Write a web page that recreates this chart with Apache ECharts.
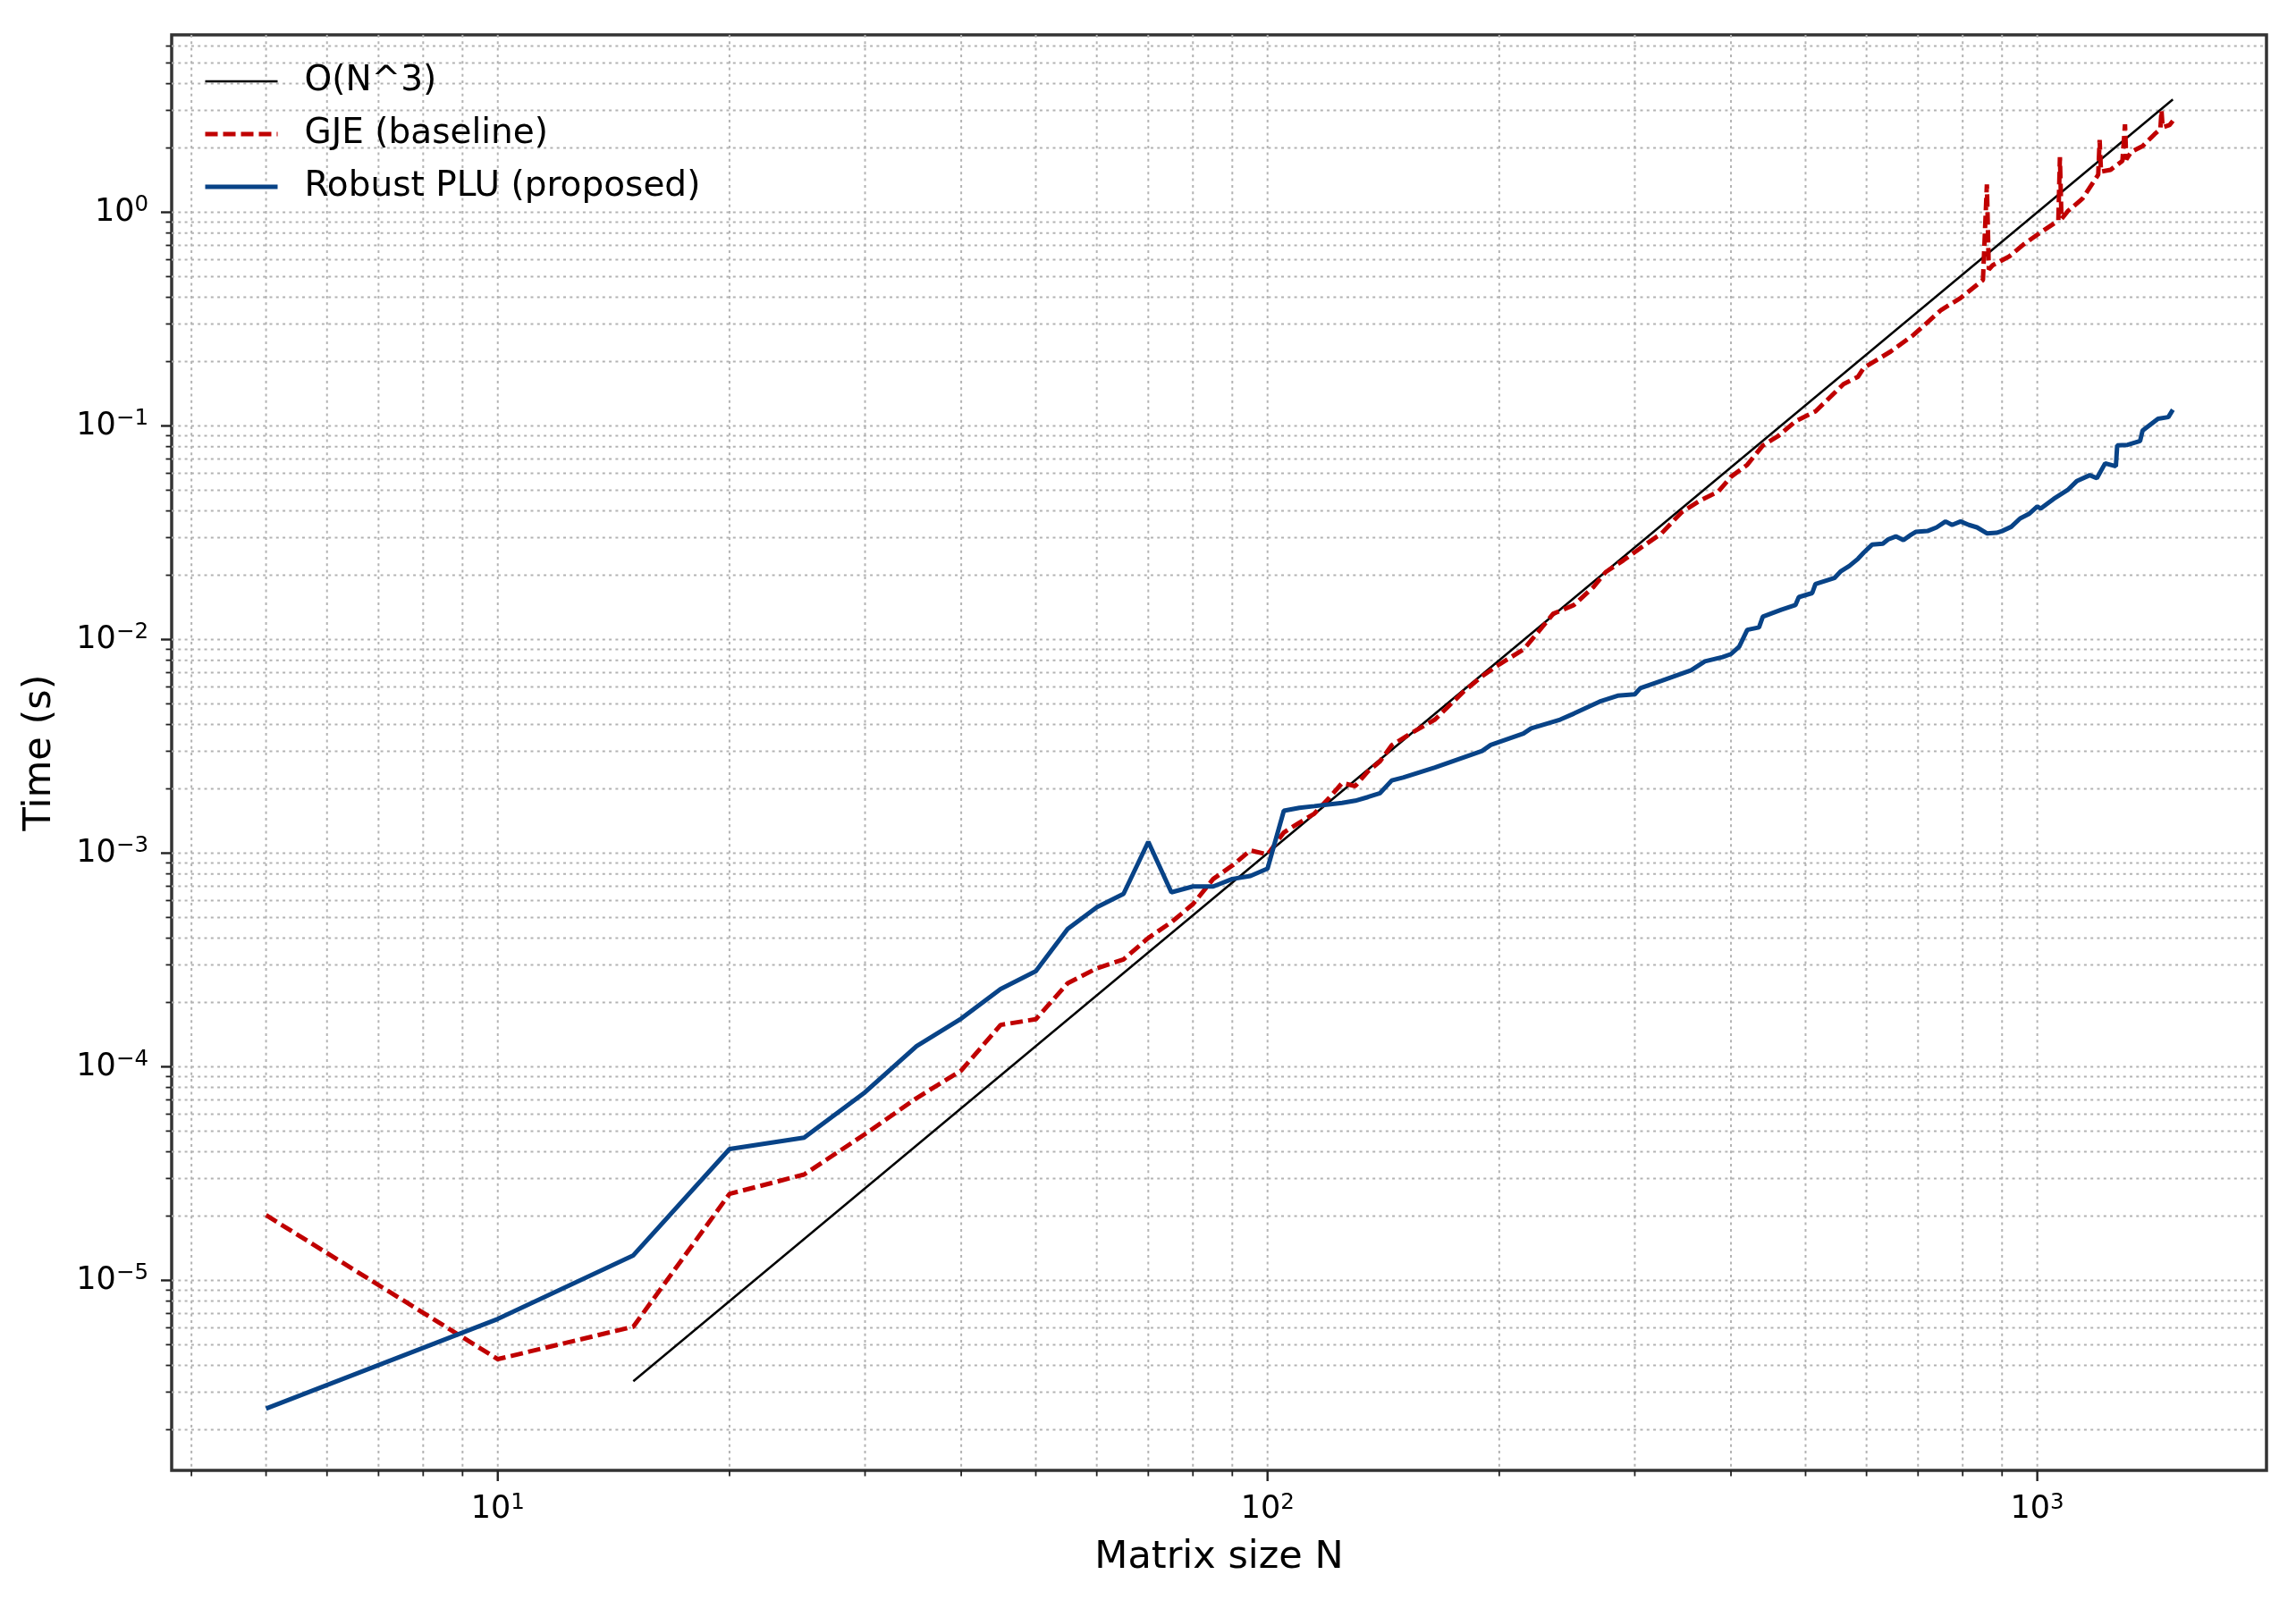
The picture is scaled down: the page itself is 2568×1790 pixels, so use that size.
<!DOCTYPE html>
<html>
<head>
<meta charset="utf-8">
<title>Matrix size vs time</title>
<script src="https://cdn.jsdelivr.net/npm/echarts@6/dist/echarts.min.js"></script>
<style>
  html, body { margin: 0; padding: 0; background: #fff; }
  #chart { width: 2568px; height: 1790px; }
</style>
</head>
<body>
<div id="chart"></div>
<script>
// reference slope O(N^3), two end points
const refN = [15, 1500];
const refT = [3.375e-6, 3.375];

// GJE (baseline)
const gjeN = [5, 10, 15, 20, 25, 30, 35, 40, 45, 50, 55, 60, 65, 70, 75, 80, 85, 90, 95, 100,
  105, 110, 115, 120, 125, 130, 135, 140, 145, 155, 165, 180, 190, 200, 215, 225, 235, 250,
  265, 275, 290, 305, 325, 345, 365, 385, 400, 420, 440, 460, 485, 515, 540, 560, 585, 595,
  645, 690, 750, 795, 850, 860, 865, 875, 920, 960, 1010, 1065, 1070, 1075, 1095, 1145,
  1200, 1205, 1210, 1245, 1290, 1300, 1305, 1325, 1370, 1420, 1445, 1450, 1455, 1485, 1500];
const gjeT = [2.02e-5, 4.28e-6, 6.07e-6, 2.54e-5, 3.13e-5, 4.84e-5, 7.13e-5, 9.6e-5, 1.57e-4, 1.67e-4,
  2.46e-4, 2.89e-4, 3.18e-4, 4.01e-4, 4.75e-4, 5.77e-4, 7.57e-4, 8.75e-4, 1.03e-3, 9.86e-4,
  1.25e-3, 1.39e-3, 1.53e-3, 1.80e-3, 2.13e-3, 2.06e-3, 2.41e-3, 2.69e-3, 3.2e-3, 3.71e-3,
  4.22e-3, 5.73e-3, 6.73e-3, 7.65e-3, 8.98e-3, 1.09e-2, 1.32e-2, 1.45e-2, 1.76e-2, 2.07e-2,
  2.35e-2, 2.68e-2, 3.14e-2, 3.94e-2, 4.48e-2, 4.92e-2, 5.78e-2, 6.58e-2, 8.1e-2, 8.93e-2,
  0.105, 0.117, 0.138, 0.157, 0.170, 0.187, 0.223, 0.266, 0.349, 0.397, 0.482, 1.35, 0.54,
  0.565, 0.622, 0.708, 0.805, 0.915, 1.81, 0.93, 1.01, 1.16, 1.50, 2.18, 1.55, 1.58, 1.74,
  2.58, 1.77, 1.92, 2.04, 2.32, 2.45, 3.0, 2.5, 2.56, 2.68];

// Robust PLU (proposed)
const pluN = [5, 10, 15, 20, 25, 30, 35, 40, 45, 50, 55, 60, 65, 70, 75, 80, 85, 90, 95, 100,
  105, 110, 115, 120, 125, 130, 135, 140, 145, 150, 165, 190, 195, 215, 220, 240, 250, 270,
  285, 300, 305, 325, 355, 370, 390, 400, 410, 420, 435, 440, 465, 485, 490, 510, 515, 545,
  555, 570, 585, 595, 610, 630, 640, 655, 670, 685, 695, 720, 740, 760, 775, 795, 815, 835,
  860, 885, 900, 925, 950, 975, 1000, 1010, 1050, 1095, 1125, 1170, 1195, 1225, 1265, 1270,
  1310, 1360, 1370, 1435, 1480, 1500];
const pluT = [2.51e-6, 6.6e-6, 1.31e-5, 4.12e-5, 4.66e-5, 7.6e-5, 1.25e-4, 1.68e-4, 2.31e-4, 2.80e-4,
  4.42e-4, 5.58e-4, 6.45e-4, 1.13e-3, 6.56e-4, 6.98e-4, 6.98e-4, 7.57e-4, 7.82e-4, 8.47e-4,
  1.58e-3, 1.63e-3, 1.66e-3, 1.69e-3, 1.72e-3, 1.76e-3, 1.83e-3, 1.91e-3, 2.19e-3, 2.26e-3,
  2.52e-3, 3.01e-3, 3.21e-3, 3.63e-3, 3.84e-3, 4.22e-3, 4.5e-3, 5.12e-3, 5.46e-3, 5.54e-3,
  5.92e-3, 6.41e-3, 7.18e-3, 7.9e-3, 8.28e-3, 8.55e-3, 9.27e-3, 1.11e-2, 1.14e-2, 1.28e-2,
  1.38e-2, 1.45e-2, 1.58e-2, 1.65e-2, 1.82e-2, 1.94e-2, 2.08e-2, 2.21e-2, 2.39e-2, 2.55e-2,
  2.78e-2, 2.81e-2, 2.94e-2, 3.04e-2, 2.92e-2, 3.09e-2, 3.19e-2, 3.22e-2, 3.35e-2, 3.57e-2,
  3.44e-2, 3.57e-2, 3.44e-2, 3.35e-2, 3.14e-2, 3.16e-2, 3.22e-2, 3.37e-2, 3.69e-2, 3.87e-2,
  4.2e-2, 4.1e-2, 4.55e-2, 5.01e-2, 5.51e-2, 5.88e-2, 5.69e-2, 6.68e-2, 6.47e-2, 8.1e-2,
  8.15e-2, 8.5e-2, 9.5e-2, 0.108, 0.110, 0.119];

// axis extents (matplotlib autoscale margins)
const xMin = 3.77, xMax = 1985;
const yMin = 1.29e-6, yMax = 6.77;
const xMajor = [10, 100, 1000];
const yMajor = [1e-5, 1e-4, 1e-3, 1e-2, 1e-1, 1];

const FONT = 'DejaVu Sans';
const GRID_COLOR = '#b3b3b3';

function minorValues(lo, hi) {
  const out = [];
  for (let e = Math.floor(Math.log10(lo)); e <= Math.ceil(Math.log10(hi)); e++) {
    for (let m = 2; m <= 9; m++) {
      const v = m * Math.pow(10, e);
      if (v > lo && v < hi) out.push(v);
    }
  }
  return out;
}

function pairs(xs, ys) {
  return xs.map((x, i) => [x, ys[i]]);
}

function powLabel(v) {
  const e = Math.log10(v);
  const r = Math.round(e);
  if (Math.abs(e - r) > 1e-6) return '';
  const s = r < 0 ? '\u2212' + (-r) : String(r);
  return '{b|10}{e|' + s + '}';
}

const labelRich = {
  b: { fontFamily: FONT, fontSize: 35, color: '#000', lineHeight: 40 },
  e: { fontFamily: FONT, fontSize: 24.5, color: '#000', lineHeight: 26, verticalAlign: 'top' }
};

const xTickData = xMajor.map(v => [v, 1, 1]).concat(minorValues(xMin, xMax).map(v => [v, 1, 0]));
const yTickData = yMajor.map(v => [10, v, 1]).concat(minorValues(yMin, yMax).map(v => [10, v, 0]));

function renderXTicks(params, api) {
  const cs = params.coordSys;
  const x = api.coord([api.value(0), 1])[0];
  const major = api.value(2) === 1;
  const bottom = cs.y + cs.height;
  return {
    type: 'group',
    children: [
      { type: 'line', shape: { x1: x, y1: cs.y, x2: x, y2: bottom },
        style: { stroke: GRID_COLOR, lineWidth: 2, lineDash: [3, 4.3] } },
      { type: 'line', shape: { x1: x, y1: bottom, x2: x, y2: bottom + (major ? 12 : 6.5) },
        style: { stroke: '#222', lineWidth: major ? 2.4 : 1.8 } }
    ]
  };
}

function renderYTicks(params, api) {
  const cs = params.coordSys;
  const y = api.coord([10, api.value(1)])[1];
  const major = api.value(2) === 1;
  return {
    type: 'group',
    children: [
      { type: 'line', shape: { x1: cs.x, y1: y, x2: cs.x + cs.width, y2: y },
        style: { stroke: GRID_COLOR, lineWidth: 2, lineDash: [3, 4.3] } },
      { type: 'line', shape: { x1: cs.x, y1: y, x2: cs.x - (major ? 12 : 6.5), y2: y },
        style: { stroke: '#222', lineWidth: major ? 2.4 : 1.8 } }
    ]
  };
}

const chart = echarts.init(document.getElementById('chart'), null, { renderer: 'canvas' });

chart.setOption({
  animation: false,
  backgroundColor: '#fff',
  grid: {
    left: 192, right: 33, top: 39, bottom: 145,
    show: true, borderColor: '#333', borderWidth: 3.5,
    backgroundColor: 'transparent',
    containLabel: false, outerBoundsMode: 'none'
  },
  legend: {
    orient: 'vertical',
    left: 227, top: 71,
    padding: 0,
    itemWidth: 81, itemHeight: 40, itemGap: 19,
    itemStyle: { opacity: 0 },
    textStyle: { fontFamily: FONT, fontSize: 39, color: '#000', lineHeight: 40, padding: [0, 0, 0, 25] },
    data: [
      { name: 'O(N^3)', lineStyle: { width: 2.5 } },
      { name: 'GJE (baseline)', lineStyle: { width: 5 } },
      { name: 'Robust PLU (proposed)', lineStyle: { width: 5 } }
    ]
  },
  xAxis: {
    type: 'log', logBase: 10, min: xMin, max: xMax,
    name: 'Matrix size N', nameLocation: 'middle', nameGap: 76,
    nameTextStyle: { fontFamily: FONT, fontSize: 43, color: '#000' },
    axisLine: { show: false }, axisTick: { show: false },
    splitLine: { show: false }, minorTick: { show: false },
    axisLabel: { margin: 24, formatter: powLabel, rich: labelRich, showMinLabel: true, showMaxLabel: true }
  },
  yAxis: {
    type: 'log', logBase: 10, min: yMin, max: yMax,
    name: 'Time (s)', nameLocation: 'middle', nameGap: 126,
    nameTextStyle: { fontFamily: FONT, fontSize: 43, color: '#000' },
    axisLine: { show: false }, axisTick: { show: false },
    splitLine: { show: false }, minorTick: { show: false },
    axisLabel: { margin: 26, formatter: powLabel, rich: labelRich, showMinLabel: true, showMaxLabel: true }
  },
  series: [
    { type: 'custom', name: 'xticks', data: xTickData, renderItem: renderXTicks,
      encode: { x: 0, y: 1 }, z: 1, silent: true, clip: false },
    { type: 'custom', name: 'yticks', data: yTickData, renderItem: renderYTicks,
      encode: { x: 0, y: 1 }, z: 1, silent: true, clip: false },
    { type: 'line', name: 'O(N^3)', data: pairs(refN, refT), symbol: 'none', showSymbol: false,
      z: 3, lineStyle: { color: '#000', width: 2.5 }, itemStyle: { color: '#000' } },
    { type: 'line', name: 'GJE (baseline)', data: pairs(gjeN, gjeT), symbol: 'none', showSymbol: false,
      z: 4, lineStyle: { color: '#c00000', width: 5, type: [14, 6], cap: 'butt' },
      itemStyle: { color: '#c00000' } },
    { type: 'line', name: 'Robust PLU (proposed)', data: pairs(pluN, pluT), symbol: 'none', showSymbol: false,
      z: 5, lineStyle: { color: '#084387', width: 5 }, itemStyle: { color: '#084387' } }
  ]
});
</script>
</body>
</html>
